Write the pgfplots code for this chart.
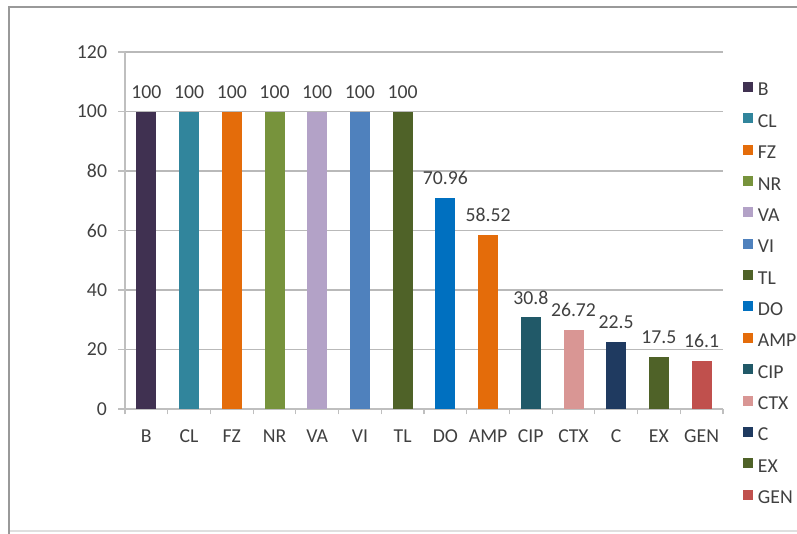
\documentclass[border=0pt]{standalone}
\usepackage{pgfplots}
\pgfplotsset{compat=1.18}
\usepackage{fontspec}
\setmainfont{Carlito}
\definecolor{cB}{HTML}{403151}
\definecolor{cCL}{HTML}{31859C}
\definecolor{cFZ}{HTML}{E46C0A}
\definecolor{cNR}{HTML}{77933C}
\definecolor{cVA}{HTML}{B3A2C7}
\definecolor{cVI}{HTML}{4F81BD}
\definecolor{cTL}{HTML}{4F6228}
\definecolor{cDO}{HTML}{0070C0}
\definecolor{cAMP}{HTML}{E46C0A}
\definecolor{cCIP}{HTML}{215968}
\definecolor{cCTX}{HTML}{D99694}
\definecolor{cC}{HTML}{1F3A60}
\definecolor{cEX}{HTML}{4F6228}
\definecolor{cGEN}{HTML}{C0504D}
\definecolor{txt}{HTML}{404040}
\pgfplotsset{
  mybar/.style={ybar, bar width=15pt, bar shift=0pt, draw=none, fill=#1,
    legend image code/.code={\fill[fill=#1,draw=none] (0pt,-0.5pt) rectangle (7.5pt,7pt);}},
}
\begin{document}
\begin{tikzpicture}
\useasboundingbox (0,0) rectangle (597.75pt,399.75pt);
\draw[gray!25, line width=0.8pt] (6.75pt,1.5pt) -- (610pt,1.5pt);
\draw[gray!80, line width=1pt] (6.75pt,-5pt) -- (6.75pt,394.5pt) -- (610pt,394.5pt);
\begin{axis}[
  at={(93.75pt,93pt)}, anchor=south west,
  scale only axis, width=448.5pt, height=267.75pt,
  xmin=-0.5, xmax=13.5, ymin=0, ymax=120,
  ytick={0,20,...,120},
  xtick={0,...,13},
  xticklabels={B,CL,FZ,NR,VA,VI,TL,DO,AMP,CIP,CTX,C,EX,GEN},
  minor xtick={-0.5,0.5,...,13.5},
  axis x line*=bottom, axis y line*=left,
  axis line style={draw=gray!50, line width=0.8pt},
  ymajorgrids, grid style={gray!55, line width=0.8pt},
  tick align=outside,
  major tick length=5pt, minor tick length=4pt,
  major x tick style={draw=none},
  minor x tick style={draw=gray!50, line width=0.8pt},
  major y tick style={draw=gray!50, line width=0.8pt},
  /pgf/number format/assume math mode=true,
  tick label style={font=\fontsize{14.8}{16}\selectfont, text=txt},
  xticklabel style={anchor=north, inner sep=0pt, text height=9.4pt, text depth=0pt, yshift=-10.2pt},
  yticklabel style={anchor=east, inner sep=0pt, xshift=-8.3pt},
  nodes near coords,
  every node near coord/.append style={anchor=base, inner sep=0pt, yshift=10pt, font=\fontsize{14.8}{16}\selectfont, text=txt},
  legend cell align=left,
  legend style={at={(axis description cs:1,0.9168)}, anchor=north west, xshift=15pt,
    draw=none, fill=none, inner sep=0pt, row sep=10.02pt, column sep=3.5pt,
    font=\fontsize{14.8}{16}\selectfont, text=txt,
    nodes={inner sep=0pt, text height=10pt, text depth=3pt}},
]
\addplot[mybar=cB] coordinates {(0,100)};
\addlegendentry{B}
\addplot[mybar=cCL] coordinates {(1,100)};
\addlegendentry{CL}
\addplot[mybar=cFZ] coordinates {(2,100)};
\addlegendentry{FZ}
\addplot[mybar=cNR] coordinates {(3,100)};
\addlegendentry{NR}
\addplot[mybar=cVA] coordinates {(4,100)};
\addlegendentry{VA}
\addplot[mybar=cVI] coordinates {(5,100)};
\addlegendentry{VI}
\addplot[mybar=cTL] coordinates {(6,100)};
\addlegendentry{TL}
\addplot[mybar=cDO] coordinates {(7,70.96)};
\addlegendentry{DO}
\addplot[mybar=cAMP] coordinates {(8,58.52)};
\addlegendentry{AMP}
\addplot[mybar=cCIP] coordinates {(9,30.8)};
\addlegendentry{CIP}
\addplot[mybar=cCTX] coordinates {(10,26.72)};
\addlegendentry{CTX}
\addplot[mybar=cC] coordinates {(11,22.5)};
\addlegendentry{C}
\addplot[mybar=cEX] coordinates {(12,17.5)};
\addlegendentry{EX}
\addplot[mybar=cGEN] coordinates {(13,16.1)};
\addlegendentry{GEN}
\end{axis}
\end{tikzpicture}
\end{document}
